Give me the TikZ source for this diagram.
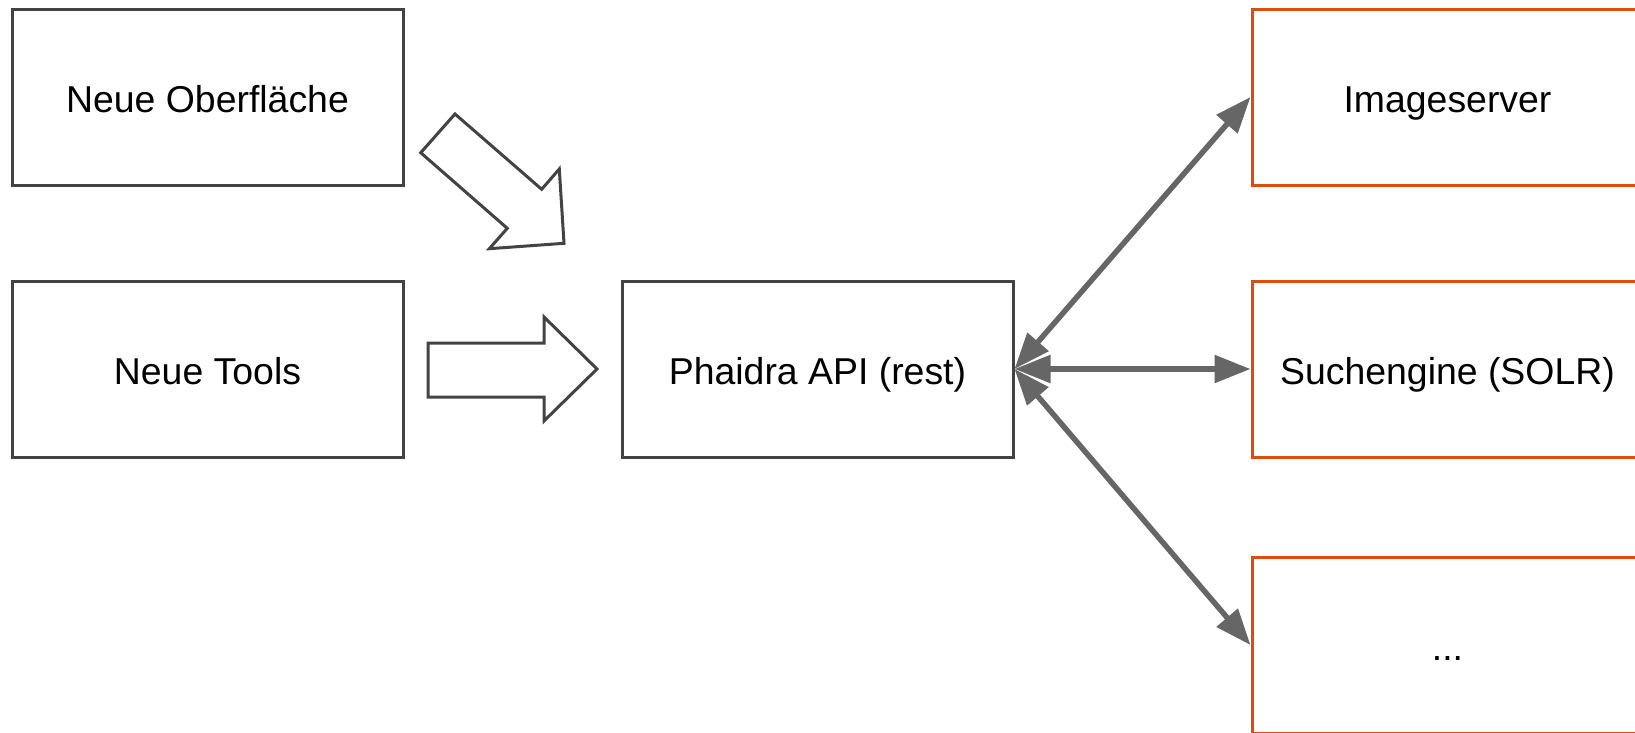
\documentclass[tikz,border=0pt]{standalone}
\usepackage{fontspec}
\setmainfont{Liberation Sans}
\usetikzlibrary{arrows.meta}

\definecolor{boxgray}{HTML}{434343}
\definecolor{linkgray}{HTML}{666666}
\definecolor{srvorange}{HTML}{E04A14}

\tikzset{
    block/.style={draw=boxgray, line width=3pt, minimum width=391pt, minimum height=176pt,
        inner sep=0pt, text height=31pt, text depth=0pt, font=\fontsize{37.4}{45}\selectfont},
    server/.style={block, draw=srvorange},
    link/.style={linkgray, line width=5.5pt,
        {Triangle[length=36pt,width=27pt]}-{Triangle[length=36pt,width=27pt]}},
    fatarrow/.style={draw=boxgray, line width=3pt, line join=miter, fill=white}
}

\begin{document}
\begin{tikzpicture}[x=1pt, y=-1pt]

    % Frame
    \useasboundingbox (0,0) rectangle (1635,732);
    \clip (0,0) rectangle (1635,732);

    %%%% Clients
    \node[block] (oberflaeche) at (207.5,97) {Neue Oberfläche};
    \node[block] (tools) at (207.5,369) {Neue Tools};

    %%%% API
    \node[block] (phaidra) at (817.5,369) {Phaidra API (rest)};

    %%%% Backends
    \node[server] (imageserver) at (1447.5,97) {Imageserver};
    \node[server] (suche) at (1447.5,369) {Suchengine (SOLR)};
    \node[server] (weitere) at (1447.5,645) {...};

    % Block arrows
    \draw[fatarrow] (420.7,152.7) -- (455,114) -- (541.7,189.3) -- (559.3,169)
        -- (564,243.3) -- (489.3,248.7) -- (507.3,228.3) -- cycle;
    \draw[fatarrow] (428,343) -- (544,343) -- (544,317) -- (597,369)
        -- (544,421) -- (544,397) -- (428,397) -- cycle;

    % Links
    \draw[link] (phaidra.east) -- (imageserver.west);
    \draw[link] (phaidra.east) -- (suche.west);
    \draw[link] (phaidra.east) -- (weitere.west);

\end{tikzpicture}
\end{document}
